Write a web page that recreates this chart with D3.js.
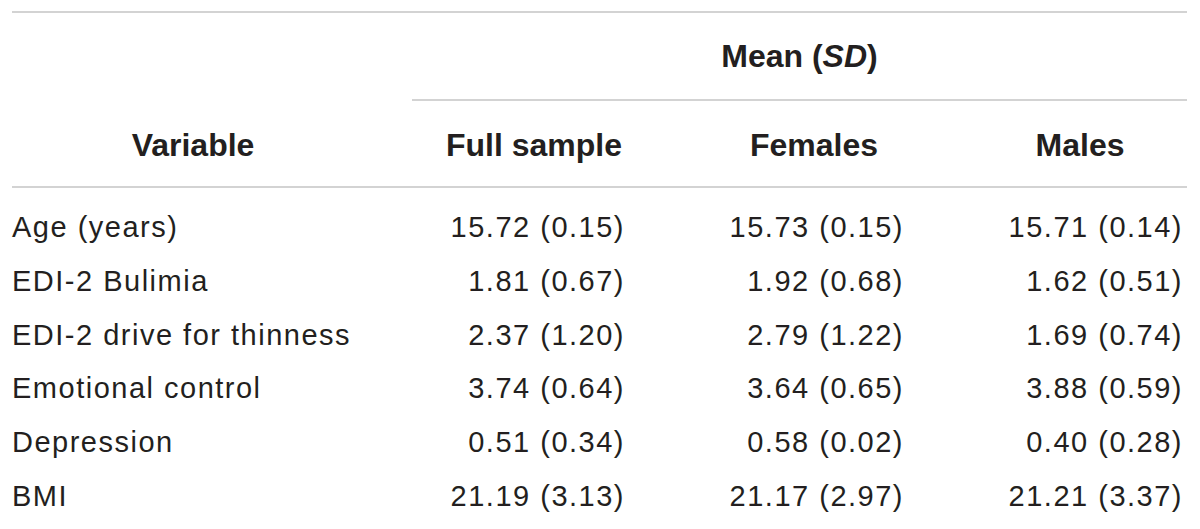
<!DOCTYPE html>
<html lang="en">
<head>
    <meta charset="UTF-8">
    <title>Mean (SD) table</title>
    <script src="https://cdn.jsdelivr.net/npm/d3@7/dist/d3.min.js"></script>
    <style>
        body { margin: 0; background: #fff; }
        text { font-family: "Liberation Sans", Arial, sans-serif; fill: #231f20; }
        .cell { font-size: 29px; letter-spacing: 1.5px; }
        .head { font-size: 32px; font-weight: bold; }
        .rule { stroke: #c4c4c4; stroke-width: 1.6; }
    </style>
</head>
<body>
<script>
	// table contents
	var variables = ["Age (years)", "EDI-2 Bulimia", "EDI-2 drive for thinness", "Emotional control", "Depression", "BMI"];
	var groups = ["Full sample", "Females", "Males"];
	var fullMean = [15.72, 1.81, 2.37, 3.74, 0.51, 21.19];
	var fullSD = [0.15, 0.67, 1.20, 0.64, 0.34, 3.13];
	var femaleMean = [15.73, 1.92, 2.79, 3.64, 0.58, 21.17];
	var femaleSD = [0.15, 0.68, 1.22, 0.65, 0.02, 2.97];
	var maleMean = [15.71, 1.62, 1.69, 3.88, 0.40, 21.21];
	var maleSD = [0.14, 0.51, 0.74, 0.59, 0.28, 3.37];

	var width = 1200;
	var height = 529;
	var svg = d3.select("body")
		.append("svg")
		.attr("width", width)
		.attr("height", height);

	var f2 = d3.format(".2f");
	var columns = [
		{mean: fullMean, sd: fullSD},
		{mean: femaleMean, sd: femaleSD},
		{mean: maleMean, sd: maleSD}
	];

	// row baselines
	var y = d3.scaleLinear().domain([0, variables.length - 1]).range([237, 506]);
	// right edge of each value column, and header centres
	var xRight = d3.scaleOrdinal().domain(groups).range([625, 904, 1183]);
	var xHead = d3.scaleOrdinal().domain(groups).range([534, 814, 1080]);

	var left = 12, right = 1187, spanLeft = 412;

	// rules
	svg.append("line").attr("class", "rule").attr("x1", left).attr("x2", right).attr("y1", 12).attr("y2", 12);
	svg.append("line").attr("class", "rule").attr("x1", spanLeft).attr("x2", right).attr("y1", 100).attr("y2", 100);
	svg.append("line").attr("class", "rule").attr("x1", left).attr("x2", right).attr("y1", 187).attr("y2", 187);

	// spanning header
	var mean = svg.append("text")
		.attr("class", "head")
		.attr("x", (spanLeft + right) / 2)
		.attr("y", 67)
		.attr("text-anchor", "middle");
	mean.append("tspan").text("Mean (");
	mean.append("tspan").style("font-style", "italic").text("SD");
	mean.append("tspan").text(")");

	// column headers
	svg.append("text")
		.attr("class", "head")
		.attr("x", 193)
		.attr("y", 156)
		.attr("text-anchor", "middle")
		.text("Variable");
	svg.selectAll("text.grp")
		.data(groups)
		.enter()
		.append("text")
		.attr("class", "head grp")
		.attr("x", function (d) { return xHead(d); })
		.attr("y", 156)
		.attr("text-anchor", "middle")
		.text(function (d) { return d; });

	// variable names
	svg.selectAll("text.var")
		.data(variables)
		.enter()
		.append("text")
		.attr("class", "cell var")
		.attr("x", left)
		.attr("y", function (d, i) { return y(i); })
		.text(function (d) { return d; });

	// values
	columns.forEach(function (col, c) {
		svg.selectAll("text.val" + c)
			.data(col.mean)
			.enter()
			.append("text")
			.attr("class", "cell val" + c)
			.attr("x", xRight(groups[c]))
			.attr("y", function (d, i) { return y(i); })
			.attr("text-anchor", "end")
			.text(function (d, i) { return f2(d) + " (" + f2(col.sd[i]) + ")"; });
	});
</script>
</body>
</html>
